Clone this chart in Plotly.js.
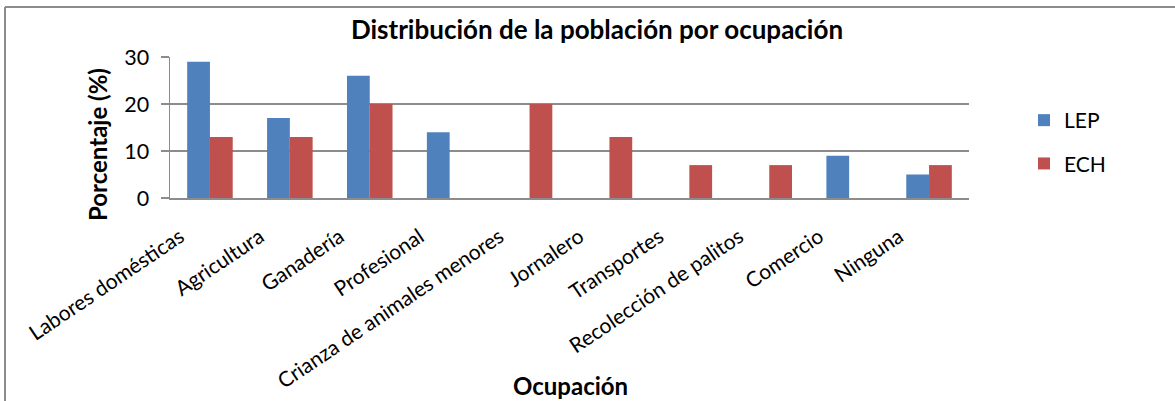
<!DOCTYPE html>
<html>
<head>
<meta charset="utf-8">
<script src="https://cdn.plot.ly/plotly-3.0.1.min.js"></script>
<style>
  html, body { margin: 0; padding: 0; background: #ffffff; }
  #chart { width: 1175px; height: 401px; }
</style>
</head>
<body>
<div id="chart"></div>
<script>
const categories = [
  "Labores domésticas",
  "Agricultura",
  "Ganadería",
  "Profesional",
  "Crianza de animales menores",
  "Jornalero",
  "Transportes",
  "Recolección de palitos",
  "Comercio",
  "Ninguna"
];
const lepValues = [29, 17, 26, 14, 0, 0, 0, 0, 9, 5];
const echValues = [13, 13, 20, 0, 20, 13, 7, 7, 0, 7];
const seriesNames = ["LEP", "ECH"];
const yTicks = [0, 10, 20, 30];

const W = 1175, H = 401;
const plotL = 170, plotR = 969, plotT = 57, plotB = 198;
const pw = plotR - plotL, ph = plotB - plotT;
const px = v => (v - plotL) / pw;
const py = v => (plotB - v) / ph;

const FONT = "Lato, 'Open Sans', 'Liberation Sans', sans-serif";

const traces = [
  {
    type: "bar", name: seriesNames[0], x: categories, y: lepValues,
    marker: { color: "#4F81BD", line: { width: 0 } },
    legendgroup: "a", hoverinfo: "x+y+name"
  },
  {
    type: "bar", name: seriesNames[1], x: categories, y: echValues,
    marker: { color: "#C0504D", line: { width: 0 } },
    legendgroup: "b", hoverinfo: "x+y+name"
  }
];

const layout = {
  width: W, height: H,
  margin: { l: plotL, r: W - plotR, t: plotT, b: H - plotB, pad: 0 },
  paper_bgcolor: "#ffffff",
  plot_bgcolor: "#ffffff",
  font: { family: FONT, color: "#000000", size: 20 },
  barmode: "group",
  bargap: 0.43,
  bargroupgap: 0,
  showlegend: true,
  title: {
    text: "<b>Distribución de la población por ocupación</b>",
    font: { family: FONT, size: 26, color: "#000000" },
    xref: "paper", x: px(597), xanchor: "center",
    yref: "container", y: 1 - 30 / H, yanchor: "middle"
  },
  xaxis: {
    type: "category",
    tickangle: -34,
    tickfont: { family: FONT, size: 21, color: "#000000" },
    showgrid: false,
    showline: true, linecolor: "#8C8C8C", linewidth: 1.5,
    ticks: "", ticklen: 0,
    ticklabelshift: -30,
    ticklabelstandoff: 17,
    automargin: false
  },
  yaxis: {
    range: [0, 30],
    tickvals: yTicks,
    ticktext: yTicks.map(String),
    tickfont: { family: FONT, size: 21.5, color: "#000000" },
    showgrid: true, gridcolor: "#8C8C8C", gridwidth: 1.5,
    showline: true, linecolor: "#8C8C8C", linewidth: 1.5,
    ticks: "outside", ticklen: 8, tickcolor: "#8C8C8C", tickwidth: 1.5,
    ticklabelstandoff: 7,
    zeroline: false,
    automargin: false
  },
  legend: {
    x: px(1024), xanchor: "left",
    y: py(100), yanchor: "top",
    font: { family: FONT, size: 21, color: "#000000" },
    traceorder: "grouped",
    tracegroupgap: 13,
    bgcolor: "rgba(0,0,0,0)"
  },
  annotations: [
    {
      text: "<b>Porcentaje (%)</b>", textangle: -90,
      xref: "paper", yref: "paper",
      x: px(97), y: py(145), xanchor: "center", yanchor: "middle",
      showarrow: false,
      font: { family: FONT, size: 24, color: "#000000" }
    },
    {
      text: "<b>Ocupación</b>",
      xref: "paper", yref: "paper",
      x: px(570), y: py(385), xanchor: "center", yanchor: "middle",
      showarrow: false,
      font: { family: FONT, size: 24, color: "#000000" }
    }
  ],
  shapes: [
    {
      type: "line", xref: "paper", yref: "paper",
      x0: px(5), x1: px(5), y0: py(7), y1: py(H + 5),
      line: { color: "#8C8C8C", width: 2 }
    },
    {
      type: "line", xref: "paper", yref: "paper",
      x0: px(5), x1: px(W + 5), y0: py(7), y1: py(7),
      line: { color: "#8C8C8C", width: 2 }
    }
  ]
};

Plotly.newPlot("chart", traces, layout, { displayModeBar: false, staticPlot: true });
</script>
</body>
</html>
